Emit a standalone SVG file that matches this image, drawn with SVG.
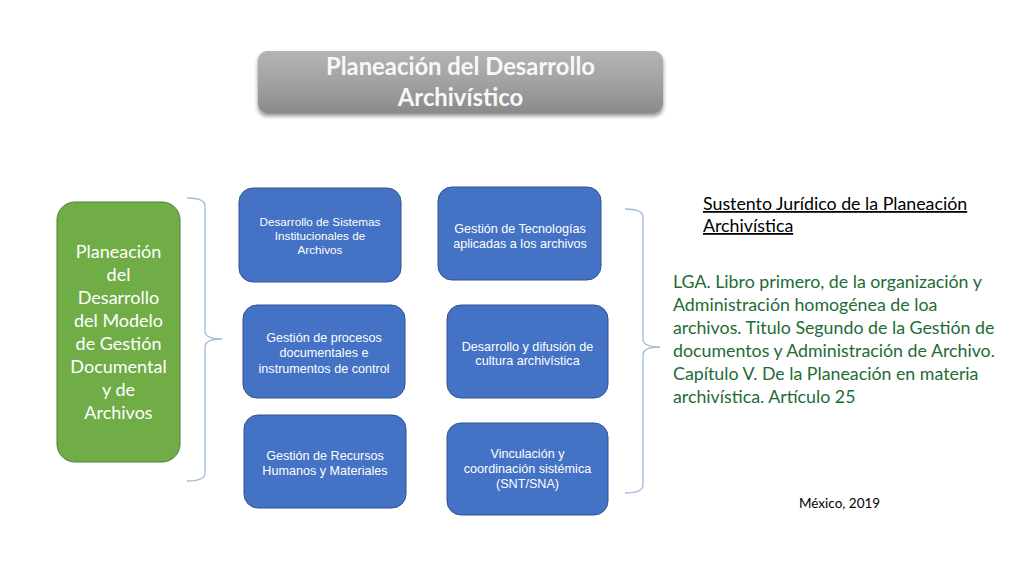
<svg xmlns="http://www.w3.org/2000/svg" width="1024" height="576" viewBox="0 0 1024 576">
<defs>
<linearGradient id="gTitle" x1="0" y1="0" x2="0" y2="1">
<stop offset="0" stop-color="#b4b4b4"/>
<stop offset="0.5" stop-color="#a2a2a2"/>
<stop offset="1" stop-color="#8a8a8a"/>
</linearGradient>
<filter id="shadow" x="-10%" y="-20%" width="120%" height="150%">
<feGaussianBlur in="SourceAlpha" stdDeviation="2"/>
<feOffset dx="0" dy="3" result="b"/>
<feComponentTransfer><feFuncA type="linear" slope="0.45"/></feComponentTransfer>
<feMerge><feMergeNode/><feMergeNode in="SourceGraphic"/></feMerge>
</filter>
</defs>
<style>
.blue{fill:#4472C4;stroke:#2F528F;stroke-width:1}
.btxt{font-family:"Liberation Sans",Arial,sans-serif;font-size:12.6px;fill:#ffffff;text-anchor:middle}
.gtxt{font-family:Lato,"Noto Sans",sans-serif;font-size:18px;fill:#ffffff;text-anchor:middle}
.brace{fill:none;stroke:#A3BCD8;stroke-width:1.3}
.law{font-family:Lato,"Noto Sans",sans-serif;font-size:17.8px;fill:#1E6B35}
.head{font-family:Lato,"Noto Sans",sans-serif;font-size:17.8px;fill:#000000;text-decoration:underline}
.ttl{font-family:Lato,"Noto Sans",sans-serif;font-weight:bold;font-size:23.8px;fill:#f8f8f8;text-anchor:middle}
</style>
<rect width="1024" height="576" fill="#ffffff"/>

<g id="title">
<rect x="258" y="51" width="405" height="62" rx="9" fill="url(#gTitle)" filter="url(#shadow)"/>
<text class="ttl" x="460.5" y="75">Planeación del Desarrollo</text>
<text class="ttl" x="460.5" y="106">Archivístico</text>
</g>

<g id="green-node">
<rect x="57" y="202" width="123" height="260" rx="18" fill="#70AD47" stroke="#507E32" stroke-width="1"/>
<text class="gtxt" x="118.5" y="258">Planeación</text>
<text class="gtxt" x="118.5" y="281">del</text>
<text class="gtxt" x="118.5" y="304">Desarrollo</text>
<text class="gtxt" x="118.5" y="327">del Modelo</text>
<text class="gtxt" x="118.5" y="350">de Gestión</text>
<text class="gtxt" x="118.5" y="373">Documental</text>
<text class="gtxt" x="118.5" y="396">y de</text>
<text class="gtxt" x="118.5" y="419">Archivos</text>
</g>

<g id="connectors">
<path class="brace" d="M187,198 Q205,198 205,206 L205,331 Q205,339 222,339 Q205,339 205,347 L205,473 Q205,481 187,481"/>
<path class="brace" d="M625,209 Q643,209 643,217 L643,339 Q643,347 660,347 Q643,347 643,355 L643,485 Q643,493 625,493"/>
</g>

<g id="node-sistemas">
<rect class="blue" x="239" y="188" width="162" height="94" rx="14"/>
<text class="btxt" x="320" y="226" style="font-size:11.7px">Desarrollo de Sistemas</text>
<text class="btxt" x="320" y="240" style="font-size:11.7px">Institucionales de</text>
<text class="btxt" x="320" y="254" style="font-size:11.7px">Archivos</text>
</g>

<g id="node-procesos">
<rect class="blue" x="243" y="305" width="162" height="93" rx="14"/>
<text class="btxt" x="324" y="341.5">Gestión de procesos</text>
<text class="btxt" x="324" y="357">documentales e</text>
<text class="btxt" x="324" y="372.5">instrumentos de control</text>
</g>

<g id="node-recursos">
<rect class="blue" x="244" y="415" width="162" height="93" rx="14"/>
<text class="btxt" x="325" y="459.5">Gestión de Recursos</text>
<text class="btxt" x="325" y="474.5">Humanos y Materiales</text>
</g>

<g id="node-tecnologias">
<rect class="blue" x="438" y="187" width="163" height="93" rx="14"/>
<text class="btxt" x="520" y="232.5">Gestión de Tecnologías</text>
<text class="btxt" x="520" y="247.5">aplicadas a los archivos</text>
</g>

<g id="node-cultura">
<rect class="blue" x="447" y="305" width="161" height="93" rx="14"/>
<text class="btxt" x="527.5" y="350.5">Desarrollo y difusión de</text>
<text class="btxt" x="527.5" y="364.5">cultura archivística</text>
</g>

<g id="node-vinculacion">
<rect class="blue" x="447" y="423" width="161" height="92" rx="14"/>
<text class="btxt" x="527.5" y="457.5">Vinculación y</text>
<text class="btxt" x="527.5" y="472.5">coordinación sistémica</text>
<text class="btxt" x="527.5" y="487.5">(SNT/SNA)</text>
</g>

<g id="sustento">
<text class="head" x="703" y="210">Sustento Jurídico de la Planeación</text>
<text class="head" x="703" y="232">Archivística</text>
</g>

<g id="lga">
<text class="law" x="673" y="288">LGA. Libro primero, de la organización y</text>
<text class="law" x="673" y="311">Administración homogénea de loa</text>
<text class="law" x="673" y="334">archivos. Titulo Segundo de la Gestión de</text>
<text class="law" x="673" y="357">documentos y Administración de Archivo.</text>
<text class="law" x="673" y="380">Capítulo V. De la Planeación en materia</text>
<text class="law" x="673" y="403">archivística. Artículo 25</text>
</g>

<g id="fecha">
<text x="799" y="508" font-family="Lato,'Noto Sans',sans-serif" font-size="13.5" fill="#000000">México, 2019</text>
</g>
</svg>
